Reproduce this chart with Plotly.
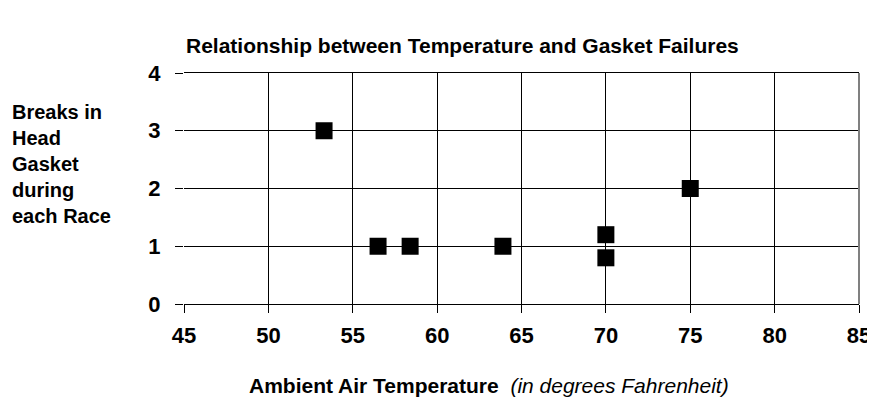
import plotly.graph_objects as go

# Data
temperature = [53.3, 56.5, 58.4, 63.9, 70.0, 70.0, 75.0]
breaks = [3, 1, 1, 1, 1.2, 0.8, 2]
x_ticks = [45, 50, 55, 60, 65, 70, 75, 80, 85]
y_ticks = [0, 1, 2, 3, 4]

title_text = "<b>Relationship between Temperature and Gasket Failures</b>"
x_title = "<b>Ambient Air Temperature</b>  <i>(in degrees Fahrenheit)</i>"
y_title = "<b>Breaks in<br>Head<br>Gasket<br>during<br>each Race</b>"

# the page body has an 8px margin, so the figure is drawn starting at (8, 8);
# size it so the page exactly fills the 875x400 window
OFF = 8
W, H = 875 - OFF, 400 - OFF
L, T = 184 - OFF, 73 - OFF
R = W - (859 - OFF)
B = H - (304 - OFF)
pw, ph = W - L - R, H - T - B

def px_x(px):
    return (px - OFF - L) / pw

def px_y(py):
    return (H - B - (py - OFF)) / ph

FONT = "Liberation Sans, Arial, sans-serif"

fig = go.Figure()
fig.add_trace(go.Scatter(
    x=temperature, y=breaks, mode="markers",
    marker=dict(symbol="square", size=17, color="black"),
    showlegend=False, hoverinfo="x+y",
))

fig.update_layout(
    width=W, height=H, autosize=False,
    margin=dict(l=L, r=R, t=T, b=B, pad=0, autoexpand=False),
    paper_bgcolor="white", plot_bgcolor="white",
    font=dict(family=FONT, color="black"),
    xaxis=dict(
        range=[45, 85], tickvals=x_ticks, ticktext=[str(v) for v in x_ticks],
        showgrid=True, gridcolor="black", gridwidth=1,
        zeroline=False, showline=True, linecolor="black", linewidth=1, mirror=True,
        ticks="outside", ticklen=8, tickcolor="black", tickwidth=1,
        tickfont=dict(size=22, family=FONT, color="black", weight="bold"),
        ticklabelstandoff=4, ticklabeloverflow="allow", automargin=False,
    ),
    yaxis=dict(
        range=[0, 4], tickvals=y_ticks, ticktext=[str(v) for v in y_ticks],
        showgrid=True, gridcolor="black", gridwidth=1,
        zeroline=False, showline=False,
        ticks="outside", ticklen=8, tickcolor="black", tickwidth=1,
        tickfont=dict(size=22, family=FONT, color="black", weight="bold"),
        ticklabelstandoff=10, ticklabeloverflow="allow", automargin=False,
    ),
    annotations=[
        dict(text=title_text, xref="paper", yref="paper", x=px_x(462), y=px_y(45),
             xanchor="center", yanchor="middle", showarrow=False,
             font=dict(size=21, family=FONT, color="black")),
        dict(text=x_title, xref="paper", yref="paper", x=px_x(489), y=px_y(385),
             xanchor="center", yanchor="middle", showarrow=False,
             font=dict(size=21, family=FONT, color="black")),
        dict(text=y_title, xref="paper", yref="paper", x=px_x(10), y=px_y(164),
             xanchor="left", yanchor="middle", align="left", showarrow=False,
             font=dict(size=20, family=FONT, color="black")),
    ],
    shapes=[
        dict(type="line", xref="paper", yref="paper", x0=1, x1=1, y0=0, y1=1,
             line=dict(color="#808080", width=2)),
    ],
)

fig.write_html("out.html")
